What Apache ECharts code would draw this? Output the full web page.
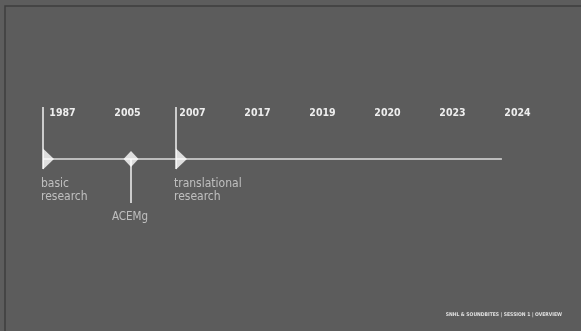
<!DOCTYPE html>
<html>
<head>
<meta charset="utf-8">
<script src="https://cdn.jsdelivr.net/npm/echarts@6/dist/echarts.min.js"></script>
<style>
  html, body { margin: 0; padding: 0; background: #5d5d5d; }
  #chart { width: 581px; height: 331px; }
</style>
</head>
<body>
<div id="chart"></div>
<script>
// year columns across the top
const years = ['1987', '2005', '2007', '2017', '2019', '2020', '2023', '2024'];
// timeline runs between these positions (column index units)
const timelineSpan = [-0.3, 6.76];
// phase starts (triangle + rule) and their captions
const phasePos = [-0.3, 1.746];
const phaseLabels = ['basic\nresearch', 'translational\nresearch'];
// single events (diamond + stem)
const eventPos = [1.054];
const eventLabels = ['ACEMg'];

const font = '"DejaVu Sans Condensed", "Liberation Sans Narrow", Roboto, sans-serif';
const lineCol = '#dcdcdc';

const chart = echarts.init(document.getElementById('chart'));

chart.setOption({
  backgroundColor: 'transparent',
  animation: false,
  graphic: [
    {
      type: 'rect', z: -10,
      shape: { x: 5, y: 6, width: 620, height: 360 },
      style: { fill: '#5c5c5c', stroke: '#3e3e3e', lineWidth: 1.5 }
    },
    {
      type: 'text', right: 19, top: 312,
      style: {
        text: 'SNHL & SOUNDBITES | SESSION 1 | OVERVIEW',
        fill: '#e0e0e0', font: 'bold 5px ' + font
      }
    }
  ],
  grid: { left: 30, right: 31, top: 107, bottom: 128 },
  xAxis: [
    {
      type: 'category', data: years, position: 'top',
      axisLine: { show: false }, axisTick: { show: false }, splitLine: { show: false },
      axisLabel: { inside: true, margin: 1, color: '#eeeeee', fontSize: 10.5, fontWeight: 'bold', fontFamily: font }
    },
    { type: 'value', min: -0.5, max: 7.5, show: false }
  ],
  yAxis: { type: 'value', min: -44, max: 52, show: false },
  series: [
    {
      type: 'lines', coordinateSystem: 'cartesian2d', xAxisIndex: 1, z: 1,
      lineStyle: { color: lineCol, width: 1.5, opacity: 1 },
      data: [{ coords: [[timelineSpan[0], 0], [timelineSpan[1], 0]] }]
    },
    {
      type: 'lines', coordinateSystem: 'cartesian2d', xAxisIndex: 1, z: 1,
      lineStyle: { color: '#f2f2f2', width: 1.5, opacity: 1 },
      data: phasePos.map(p => ({ coords: [[p, 52], [p, -10]] }))
        .concat(eventPos.map(p => ({ coords: [[p, 0], [p, -44]] })))
    },
    {
      type: 'scatter', xAxisIndex: 1, z: 5,
      symbol: 'path://M0,0 L10,10 L0,20 Z', symbolKeepAspect: false,
      symbolSize: [11, 21], symbolOffset: [5.5, 0],
      itemStyle: { color: '#ffffff' },
      label: {
        show: true, position: 'inside', offset: [-7.5, 31], align: 'left', verticalAlign: 'middle',
        color: '#d8d8d8', fontSize: 12, lineHeight: 13, fontFamily: font,
        formatter: p => phaseLabels[p.dataIndex]
      },
      data: phasePos.map(p => [p, 0])
    },
    {
      type: 'scatter', xAxisIndex: 1, z: 5,
      symbol: 'diamond', symbolSize: [15, 16],
      itemStyle: { color: '#ffffff' },
      label: {
        show: true, position: 'inside', offset: [-1, 58], align: 'center', verticalAlign: 'middle',
        color: '#d8d8d8', fontSize: 11.5, fontFamily: font,
        formatter: p => eventLabels[p.dataIndex]
      },
      data: eventPos.map(p => [p, 0])
    }
  ]
});
</script>
</body>
</html>
